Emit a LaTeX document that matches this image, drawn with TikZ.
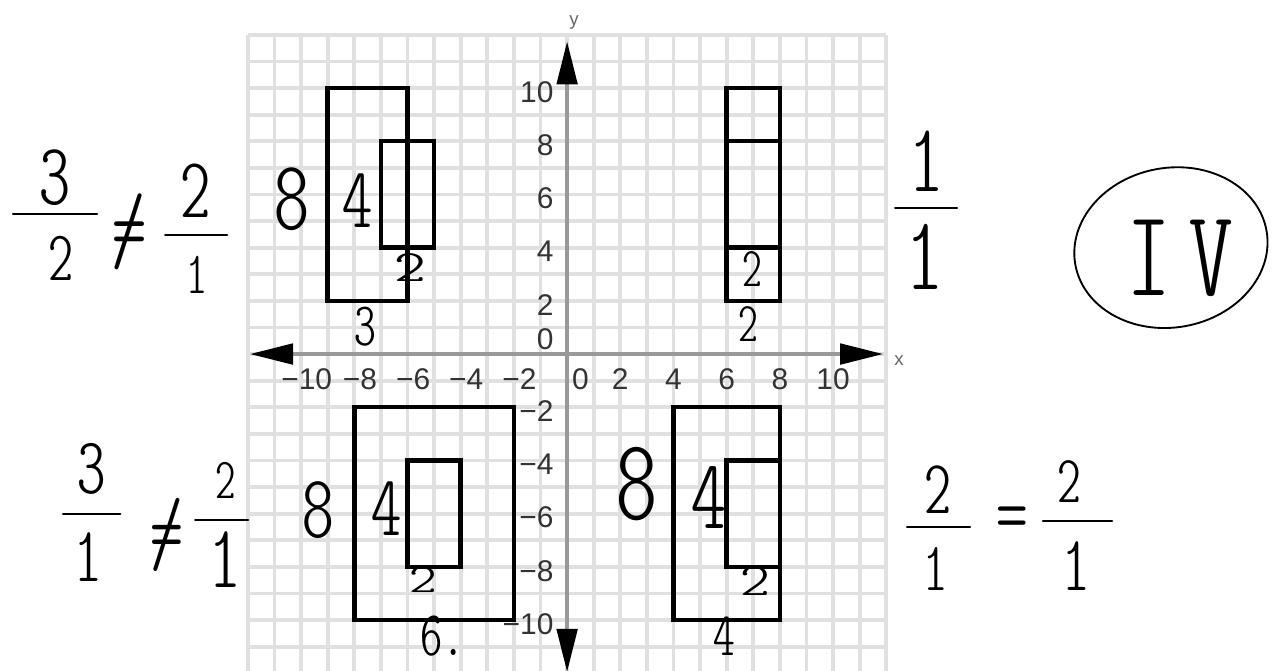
\documentclass[tikz,border=0pt]{standalone}
\usepackage{fontspec}
\newfontfamily\ticksfont{Liberation Sans}
\newfontfamily\handfont{lmmonoltcond10-regular.otf}
\newcommand\handne{\ooalign{\hfil/\hfil\cr=\cr}}
\usetikzlibrary{arrows.meta}

\tikzset{
  gridline/.style={line width=2pt, black!12},
  axisline/.style={line width=1.8pt, black!40,
    {Triangle[length=23pt,width=11pt,color=black]}-{Triangle[length=23pt,width=11pt,color=black]}},
  ticklabel/.style={font=\ticksfont\fontsize{16}{16}\selectfont, text=black!80, inner sep=0pt},
  axisname/.style={font=\ticksfont\fontsize{10}{10}\selectfont, text=black!60, inner sep=0pt},
  shapebox/.style={line width=2.4pt, black},
  handnum/.style={font=\handfont\fontsize{#1}{#1}\selectfont, inner sep=0pt},
  fracbar/.style={line width=1.2pt, black, line cap=round},
}

\begin{document}
\begin{tikzpicture}[x=0.5cm,y=0.5cm]
\useasboundingbox (-21.32,-11.88) rectangle (26.50,13.31);
% grid and axes
\foreach \i in {-12,...,12} {
  \draw[gridline] (\i,-12) -- (\i,12);
  \draw[gridline] (-12,\i) -- (12,\i);
}
\draw[axisline] (-11.92,0) -- (11.88,0);
\draw[axisline] (0,-11.95) -- (0,11.75);
\draw (12.48,-0.26) node (xname) [axisname] {x};
\draw (0.26,12.48)  node (yname) [axisname] {y};
% tick labels
\draw (0.5,-0.94) node (xt0) [ticklabel] {0};
\draw (-0.5,0.56) node (yt0) [ticklabel,anchor=east] {0};
\foreach \v in {2,4,6,8,10} {
  \draw (\v,-0.94)       node (xt\v)  [ticklabel] {\v};
  \draw (-\v+0.21,-0.94) node (xtm\v) [ticklabel] {−\v};
  \draw (-0.5,\v-0.14)   node (yt\v)  [ticklabel,anchor=east] {\v};
  \draw (-0.5,-\v-0.15)  node (ytm\v) [ticklabel,anchor=east] {−\v};
}
% rectangles
\draw[shapebox] (-9,2) rectangle (-6,10);
\draw[shapebox] (-7,4) rectangle (-5,8);
\draw[shapebox] (6,2) rectangle (8,10);
\draw[shapebox] (6,8) -- (8,8);
\draw[shapebox] (6,4) -- (8,4);
\draw[shapebox] (-8,-2) rectangle (-2,-10);
\draw[shapebox] (-6,-4) rectangle (-4,-8);
\draw[shapebox] (4,-2) rectangle (8,-10);
\draw[shapebox] (6,-4) rectangle (8,-8);
% side lengths
\draw (-10.34,5.83) node (q2h)  [handnum=53] {8};
\draw (-7.86,5.75)  node (q2hs) [handnum=46] {4};
\draw (-5.9,3.27)   node (q2ws) [handnum=24] {\scalebox{2}[1]{2}};
\draw (-7.6,1.02)   node (q2w)  [handnum=33] {3};
\draw (6.95,3.2)    node (q1hs) [handnum=30] {2};
\draw (6.8,1.12)    node (q1w)  [handnum=30] {2};
\draw (-9.36,-5.86) node (q3h)  [handnum=48] {8};
\draw (-6.77,-5.83) node (q3hs) [handnum=46] {4};
\draw (-5.4,-8.5)   node (q3ws) [handnum=22] {\scalebox{1.9}[1]{2}};
\draw (-5.53,-10.62) node (q3w) [handnum=34,anchor=west] {6.};
\draw (2.63,-4.9)   node (q4h)  [handnum=62] {8};
\draw (5.34,-5.38)  node (q4hs) [handnum=53] {4};
\draw (7.06,-8.53)  node (q4ws) [handnum=25] {\scalebox{1.8}[1]{2}};
\draw (5.9,-10.6)   node (q4w)  [handnum=33] {4};
% ratios
\draw (-19.25,6.62) node (r2a) [handnum=47] {3};
\draw (-19.02,3.61) node (r2b) [handnum=38] {2};
\draw[fracbar] (-20.83,5.26) -- (-17.67,5.26);
\draw (-16.47,4.74) node (r2ne) [handnum=52] {\handne};
\draw (-13.95,6.13) node (r2c) [handnum=46] {2};
\draw (-13.91,2.97) node (r2d) [handnum=32] {1};
\draw[fracbar] (-15.11,4.47) -- (-12.78,4.47);
\draw (13.53,7.25)  node (r1a) [handnum=52] {1};
\draw (13.46,3.65)  node (r1b) [handnum=56] {1};
\draw[fracbar] (12.33,5.49) -- (14.66,5.49);
\draw (-17.89,-4.32) node (r3a) [handnum=43] {3};
\draw (-18.0,-7.63)  node (r3b) [handnum=42] {1};
\draw[fracbar] (-18.95,-6.02) -- (-16.80,-6.02);
\draw (-15.04,-6.65) node (r3ne) [handnum=50] {\handne};
\draw (-12.82,-4.77) node (r3c) [handnum=31] {2};
\draw (-12.86,-7.74) node (r3d) [handnum=48] {1};
\draw[fracbar] (-13.98,-6.24) -- (-11.99,-6.24);
\draw (13.95,-5.11) node (r4a) [handnum=41] {2};
\draw (13.87,-8.08) node (r4b) [handnum=37] {1};
\draw[fracbar] (12.78,-6.50) -- (15.15,-6.50);
\draw (16.73,-6.43) node (r4eq) [handnum=48] {=};
\draw (18.87,-4.81) node (r4c) [handnum=36] {2};
\draw (19.14,-7.97) node (r4d) [handnum=42] {1};
\draw[fracbar] (17.89,-6.28) -- (20.49,-6.28);
% answer
\draw[line width=1pt, rotate around={10:(22.7,4.0)}] (22.7,4.0) ellipse [x radius=3.65, y radius=3.0];
\draw (23.05,3.61) node (quad) [handnum=66] {I\hspace{0.15em}V};
\end{tikzpicture}
\end{document}
